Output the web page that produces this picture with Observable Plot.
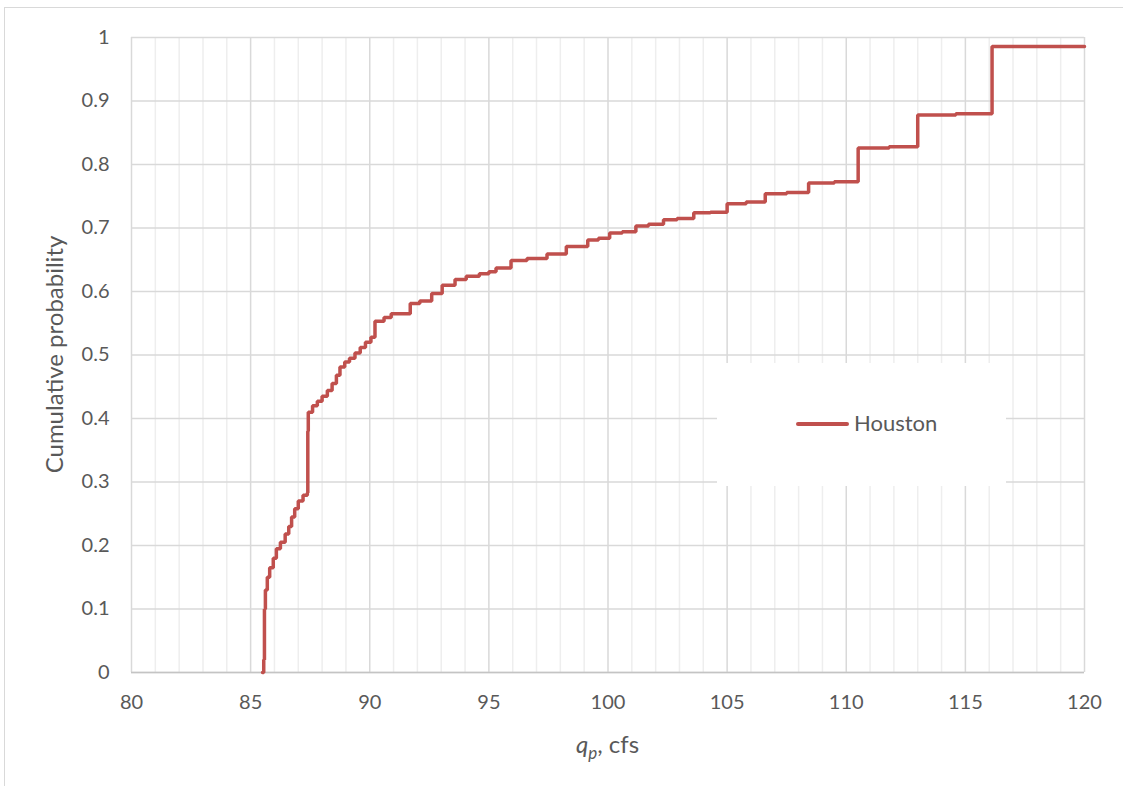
<!DOCTYPE html>
<html>
<head>
<meta charset="utf-8">
<script src="https://cdn.jsdelivr.net/npm/d3@7"></script>
<script src="https://cdn.jsdelivr.net/npm/@observablehq/plot@0.6"></script>
<style>
  html, body { margin: 0; padding: 0; background: #ffffff; overflow: hidden; }
  #wrap { position: relative; width: 1123px; height: 786px; }
  #border { position: absolute; left: 4px; top: 7px; width: 1200px; height: 900px; border: 1px solid #d9d9d9; pointer-events: none; }
  #legend { position: absolute; left: 717px; top: 363px; width: 289px; height: 123px; background: #ffffff; }
  #legend .sw { position: absolute; left: 79px; top: 59px; width: 53px; height: 4px; border-radius: 2px; background: #c0504d; }
  #legend .lb { position: absolute; left: 137px; top: 46px; line-height: 28px; font-family: Lato, "Open Sans", sans-serif; font-size: 22px; color: #595959; }
</style>
</head>
<body>
<div id="wrap">
  <div id="chart"></div>
  <div id="legend"><div class="sw"></div><div class="lb">Houston</div></div>
  <div id="border"></div>
</div>
<script>
// Peak flow q_p (cfs) at each step of the empirical CDF
const qp = [85.50, 85.55, 85.58, 85.58, 85.62, 85.70, 85.80, 85.95, 86.08, 86.25,
            86.45, 86.60, 86.72, 86.85, 87.00, 87.20, 87.38, 87.40, 87.42, 87.60,
            87.80, 88.00, 88.22, 88.42, 88.60, 88.75, 88.95, 89.15, 89.38, 89.60,
            89.82, 90.05, 90.22, 90.60, 90.90, 91.70, 92.10, 92.60, 93.04, 93.58,
            94.05, 94.60, 95.00, 95.30, 95.93, 96.60, 97.44, 98.25, 99.15, 99.60,
            100.07, 100.60, 101.17, 101.70, 102.33, 102.90, 103.60, 104.30, 105.00, 105.80,
            106.60, 107.50, 108.42, 109.50, 110.50, 111.80, 113.00, 114.60, 116.12, 120.00];
// Cumulative probability after each step
const prob = [0.000, 0.020, 0.050, 0.100, 0.130, 0.150, 0.165, 0.180, 0.195, 0.205,
              0.218, 0.230, 0.245, 0.258, 0.270, 0.279, 0.283, 0.380, 0.410, 0.420,
              0.427, 0.435, 0.444, 0.455, 0.468, 0.481, 0.489, 0.495, 0.503, 0.512,
              0.520, 0.528, 0.553, 0.559, 0.565, 0.581, 0.585, 0.597, 0.610, 0.619,
              0.624, 0.628, 0.631, 0.637, 0.649, 0.652, 0.659, 0.671, 0.681, 0.684,
              0.692, 0.694, 0.703, 0.706, 0.713, 0.715, 0.724, 0.725, 0.738, 0.741,
              0.754, 0.756, 0.771, 0.773, 0.826, 0.828, 0.878, 0.880, 0.986, 0.986];
const xTicks = [80, 85, 90, 95, 100, 105, 110, 115, 120];
const xMinor = [81, 82, 83, 84, 86, 87, 88, 89, 91, 92, 93, 94, 96, 97, 98, 99,
                101, 102, 103, 104, 106, 107, 108, 109, 111, 112, 113, 114, 116, 117, 118, 119];
const yTicks = [0, 0.1, 0.2, 0.3, 0.4, 0.5, 0.6, 0.7, 0.8, 0.9, 1];

const data = qp.map((x, i) => ({x, p: prob[i]}));

const chart = Plot.plot({
  width: 1123,
  height: 786,
  marginLeft: 131,
  marginRight: 39,
  marginTop: 37,
  marginBottom: 114,
  style: {fontFamily: "Lato, 'Open Sans', sans-serif", fontSize: "20px", color: "#595959", background: "transparent"},
  x: {domain: [80, 120]},
  y: {domain: [0, 1]},
  marks: [
    Plot.gridX(xMinor, {stroke: "#eeeeee", strokeOpacity: 1, strokeWidth: 1.5}),
    Plot.gridX(xTicks, {stroke: "#d9d9d9", strokeOpacity: 1, strokeWidth: 1.5}),
    Plot.gridY(yTicks, {stroke: "#d9d9d9", strokeOpacity: 1, strokeWidth: 1.5}),
    Plot.ruleY([0], {stroke: "#c4c4c4", strokeWidth: 1.5}),
    Plot.axisX(xTicks, {tickSize: 0, tickPadding: 22, label: null, tickFormat: d => String(d)}),
    Plot.axisY(yTicks, {tickSize: 0, tickPadding: 22, label: null, tickFormat: d => String(+d.toFixed(1))}),
    Plot.line(data, {x: "x", y: "p", curve: "step-after", stroke: "#c0504d", strokeWidth: 3.5, strokeLinejoin: "miter"})
  ]
});

const xs = chart.scale("x");
const ys = chart.scale("y");
const svg = d3.select(chart);

// y-axis title
svg.append("text")
  .attr("transform", `translate(63,${ys.apply(0.5)}) rotate(-90)`)
  .attr("text-anchor", "middle")
  .attr("fill", "#595959")
  .attr("font-size", 24)
  .text("Cumulative probability");

// x-axis title with italic q and subscript p
const t = svg.append("text")
  .attr("x", xs.apply(100))
  .attr("y", 753)
  .attr("text-anchor", "middle")
  .attr("fill", "#595959")
  .attr("font-size", 24);
t.append("tspan").attr("font-style", "italic").text("q");
t.append("tspan").attr("font-style", "italic").attr("font-size", 17).attr("dy", 6).text("p");
t.append("tspan").attr("dy", -6).text(", cfs");

document.getElementById("chart").appendChild(chart);
</script>
</body>
</html>
